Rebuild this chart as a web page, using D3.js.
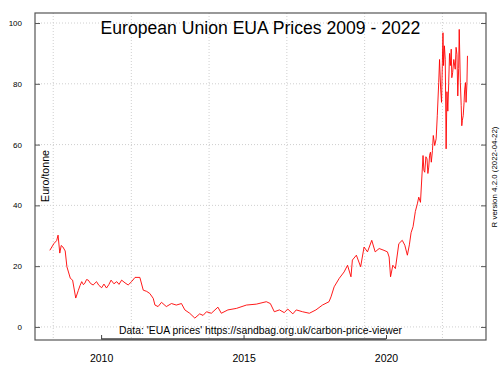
<!DOCTYPE html>
<meta charset="utf-8">
<script src="https://d3js.org/d3.v7.min.js"></script>
<style>
  body { margin: 0; background: #fff; }
  text { font-family: "Liberation Sans", Arial, sans-serif; }
</style>
<div id="chart"></div>
<script>

// EUA price, decimal year and euro/tonne
var dates = [2008.20, 2008.27, 2008.35, 2008.44, 2008.49, 2008.55, 2008.60, 2008.66, 2008.74, 2008.80, 2008.92, 2009.00,
  2009.11, 2009.20, 2009.26, 2009.32, 2009.38, 2009.43, 2009.49, 2009.55, 2009.63, 2009.72, 2009.84, 2009.92, 2010.02,
  2010.10, 2010.19, 2010.27, 2010.35, 2010.45, 2010.55, 2010.63, 2010.72, 2010.84,
  2010.95, 2011.08, 2011.19, 2011.36, 2011.48, 2011.60, 2011.71, 2011.83, 2011.89, 2012.00, 2012.12, 2012.29, 2012.47, 2012.64,
  2012.82, 2012.94, 2013.11, 2013.29, 2013.46, 2013.58, 2013.70, 2013.87, 2014.10, 2014.22, 2014.45, 2014.75, 2015.10,
  2015.45, 2015.80, 2015.94, 2016.08, 2016.26, 2016.43, 2016.55, 2016.73, 2016.85, 2017.07, 2017.31, 2017.54,
  2017.77, 2018.00, 2018.07, 2018.18, 2018.36, 2018.53, 2018.65, 2018.77, 2018.82, 2018.96, 2019.11, 2019.23,
  2019.35, 2019.50, 2019.62, 2019.76, 2019.93, 2020.05, 2020.11, 2020.16, 2020.24, 2020.33, 2020.45, 2020.57,
  2020.66, 2020.75, 2020.82, 2020.88, 2020.95, 2021.03, 2021.10, 2021.15, 2021.21, 2021.30, 2021.33, 2021.36, 2021.40, 2021.44,
  2021.47, 2021.50, 2021.53, 2021.56, 2021.59, 2021.63, 2021.66, 2021.71, 2021.76, 2021.80, 2021.85, 2021.88, 2021.92, 2021.95,
  2022.00, 2022.02, 2022.05, 2022.08, 2022.11, 2022.14, 2022.17, 2022.20, 2022.23, 2022.26, 2022.29, 2022.31, 2022.34, 2022.38,
  2022.43, 2022.46, 2022.49, 2022.52, 2022.55, 2022.57, 2022.61, 2022.64, 2022.66, 2022.68, 2022.71, 2022.74, 2022.76,
  2022.79, 2022.81, 2022.84, 2022.86];
var prices = [25.2, 26.3, 27.5, 28.4, 30.2, 24.3, 26.8, 26.3, 25.0, 19.8, 16.0, 15.4,
  9.5, 12.0, 13.6, 14.9, 13.9, 14.4, 15.6, 15.4, 14.3, 13.8, 14.9, 13.7, 12.9,
  14.1, 12.8, 13.9, 15.4, 14.2, 14.9, 14.0, 15.4, 14.5,
  13.8, 15.0, 16.3, 16.3, 12.1, 11.7, 11.0, 9.4, 7.2, 6.7, 8.1, 6.7, 7.7, 7.2,
  7.7, 5.6, 4.5, 2.9, 4.3, 3.8, 5.0, 4.5, 6.5, 4.5, 5.6, 6.1, 7.2,
  7.5, 8.3, 7.7, 5.0, 5.6, 4.7, 5.9, 4.3, 5.6, 5.0, 4.5, 5.6,
  7.2, 8.3, 9.9, 13.2, 16.0, 18.1, 20.3, 16.5, 22.0, 23.6, 19.8, 26.3,
  24.7, 28.5, 24.7, 25.8, 25.2, 24.7, 23.0, 16.5, 20.3, 19.2, 27.4, 28.5,
  26.9, 23.6, 27.0, 31.0, 33.0, 38.0, 40.5, 42.7, 41.0, 56.4, 51.5, 50.9, 56.0, 55.3,
  50.5, 52.6, 56.5, 57.5, 54.2, 58.0, 63.0, 59.7, 61.9, 69.5, 80.4, 88.0, 78.0, 73.9,
  96.8, 86.0, 92.5, 88.0, 58.6, 77.4, 71.0, 80.0, 90.0, 86.0, 91.4, 82.0, 83.7, 88.0,
  84.8, 92.0, 89.7, 76.0, 85.0, 97.9, 80.4, 72.8, 66.2, 68.0, 69.5, 73.9, 78.0,
  80.4, 73.9, 80.0, 89.2];

var yTicks = [0, 20, 40, 60, 80, 100];
var xTicks = [2010, 2015, 2020];
var gridYears = [2008.32, 2011.06, 2013.79, 2016.52, 2019.25, 2021.98];

var width = 500, height = 375;
var box = {left: 35, right: 486, top: 13, bottom: 340};

var svg = d3.select("#chart")
  .append("svg")
    .attr("width", width)
    .attr("height", height);

var x = d3.scaleLinear()
  .domain([2007.68, 2023.51])
  .range([box.left, box.right]);

var y = d3.scaleLinear()
  .domain([-4.3, 103.3])
  .range([box.bottom, box.top]);

// dotted grid
svg.append("g").selectAll("line")
  .data(yTicks)
  .enter().append("line")
    .attr("x1", box.left).attr("x2", box.right)
    .attr("y1", function(d) { return y(d); })
    .attr("y2", function(d) { return y(d); })
    .attr("stroke", "#cfcfcf")
    .attr("stroke-dasharray", "1,2");

svg.append("g").selectAll("line")
  .data(gridYears)
  .enter().append("line")
    .attr("x1", function(d) { return x(d); })
    .attr("x2", function(d) { return x(d); })
    .attr("y1", box.top).attr("y2", box.bottom)
    .attr("stroke", "#cfcfcf")
    .attr("stroke-dasharray", "1,2");

// price line
var data = dates.map(function(d, i) { return {date: d, price: prices[i]}; });

svg.append("path")
  .datum(data)
  .attr("fill", "none")
  .attr("stroke", "#ff0000")
  .attr("stroke-width", 0.9)
  .attr("d", d3.line()
    .x(function(d) { return x(d.date); })
    .y(function(d) { return y(d.price); }));

// box
svg.append("rect")
  .attr("x", box.left).attr("y", box.top)
  .attr("width", box.right - box.left)
  .attr("height", box.bottom - box.top)
  .attr("fill", "none")
  .attr("stroke", "#555")
  .attr("stroke-width", 1.2);

// left axis, ticks inside
var yAxis = svg.append("g")
  .attr("transform", "translate(" + box.left + ",0)")
  .call(d3.axisLeft(y).tickValues(yTicks).tickSizeInner(-5).tickSizeOuter(0).tickPadding(13));
yAxis.select(".domain").remove();
yAxis.selectAll("line").attr("stroke", "#555");
yAxis.selectAll("text")
  .style("font-size", "8px")
  .style("font-family", "'Liberation Sans', Arial, sans-serif")
  .attr("fill", "#000");

// right axis, ticks only
var yAxisR = svg.append("g")
  .attr("transform", "translate(" + box.right + ",0)")
  .call(d3.axisLeft(y).tickValues(yTicks).tickSizeInner(5).tickSizeOuter(0).tickFormat(""));
yAxisR.select(".domain").remove();
yAxisR.selectAll("line").attr("stroke", "#555");

// bottom axis
var xAxis = svg.append("g")
  .attr("transform", "translate(0," + (box.bottom - 1) + ")")
  .call(d3.axisBottom(x).tickValues(xTicks).tickSizeInner(-4).tickSizeOuter(0).tickPadding(16)
    .tickFormat(d3.format("d")));
xAxis.select(".domain").remove();
xAxis.selectAll("line").attr("stroke", "#444");
xAxis.selectAll("text")
  .style("font-size", "10.5px")
  .style("font-family", "'Liberation Sans', Arial, sans-serif")
  .attr("fill", "#000");
xAxis.append("line")
  .attr("x1", x(xTicks[0])).attr("x2", x(xTicks[xTicks.length - 1]))
  .attr("stroke", "#444")
  .attr("stroke-width", 1.5);

// texts
svg.append("text")
  .attr("x", 260.5).attr("y", 34)
  .attr("text-anchor", "middle")
  .style("font-size", "17.6px")
  .text("European Union EUA Prices 2009 - 2022");

svg.append("text")
  .attr("x", 260.5).attr("y", 333.5)
  .attr("text-anchor", "middle")
  .style("font-size", "10.4px")
  .text("Data: 'EUA prices' https://sandbag.org.uk/carbon-price-viewer");

svg.append("text")
  .attr("transform", "translate(49.3,176)rotate(-90)")
  .attr("text-anchor", "middle")
  .style("font-size", "10.6px")
  .text("Euro/tonne");

svg.append("text")
  .attr("transform", "translate(496.5,177)rotate(-90)")
  .attr("text-anchor", "middle")
  .style("font-size", "7.9px")
  .text("R version 4.2.0 (2022-04-22)");

</script>
